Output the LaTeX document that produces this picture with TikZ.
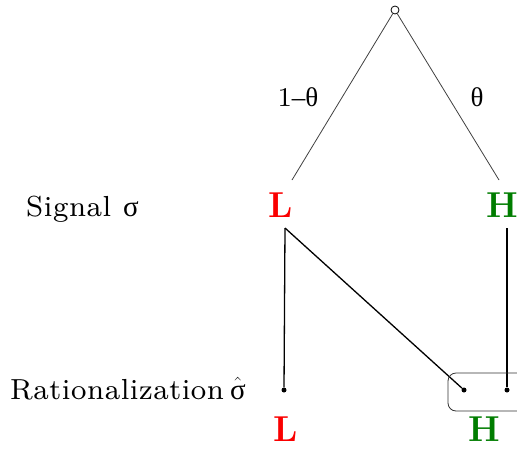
\documentclass[tikz,border=0pt]{standalone}
\usepackage{amsmath}
\usepackage{fontspec}
\newfontfamily\greekfont{Liberation Serif}
\newfontfamily\labelfont{lmroman8-regular}[Extension=.otf, LetterSpace=2]
\usetikzlibrary{positioning}
\definecolor{lowred}{RGB}{250,0,0}
\definecolor{highgreen}{RGB}{0,125,0}
\tikzset{
  branch/.style={draw=black!75, line width=0.8pt},
  report/.style={draw=black, line width=1.3pt},
  sigtype/.style={font=\fontsize{36}{36}\selectfont\bfseries, inner sep=0pt},
  prob/.style={font=\fontsize{27}{27}\selectfont\labelfont, inner sep=0pt},
  rowlabel/.style={font=\fontsize{29}{29}\selectfont\labelfont, inner sep=0pt, anchor=base west},
  repdot/.style={circle, fill=black, inner sep=0pt, minimum size=5pt},
  pool/.style={draw=black!80, line width=0.8pt, rounded corners=8pt},
}

\begin{document}
\begin{tikzpicture}[x=1pt, y=-1pt]
  \useasboundingbox (0,0) rectangle (517,448);
  % chance node and the two signals
  \node[circle, draw, line width=0.8pt, inner sep=0pt, minimum size=8pt] (root) at (395,10) {};
  \coordinate (tipL) at (292,180);
  \coordinate (tipH) at (499,180);
  \draw[branch] (root) -- (tipL);
  \draw[branch] (root) -- (tipH);
  \node[prob] (pL) at (298,97) {1{\greekfont –θ}};
  \node[prob] (pH) at (477,97) {\greekfont θ};
  \node[sigtype, lowred] (sL) at (281,205) {L};
  \node[sigtype, highgreen] (sH) at (502,205) {H};
  \node[rowlabel] (signal) at (26,216) {Signal\hspace{12pt}{\greekfont σ}};
  % rationalization
  \coordinate (fromL) at (285,228);
  \coordinate (fromH) at (507,228);
  \node[repdot] (rL) at (284,390) {};
  \node[repdot] (rH) at (464,390) {};
  \node[repdot] (rHH) at (507,390) {};
  \draw[report] (fromL) -- (rL);
  \draw[report] (fromL) -- (rH);
  \draw[report] (fromH) -- (rHH);
  \draw[pool] (448,373) rectangle (530,411);
  \node[rowlabel] (ratio) at (10,399) {Rationalization\hspace{6pt}$\hat{\text{\greekfont σ}}$};
  \node[sigtype, lowred] (oL) at (286,429) {L};
  \node[sigtype, highgreen] (oH) at (484,429) {H};
\end{tikzpicture}
\end{document}
